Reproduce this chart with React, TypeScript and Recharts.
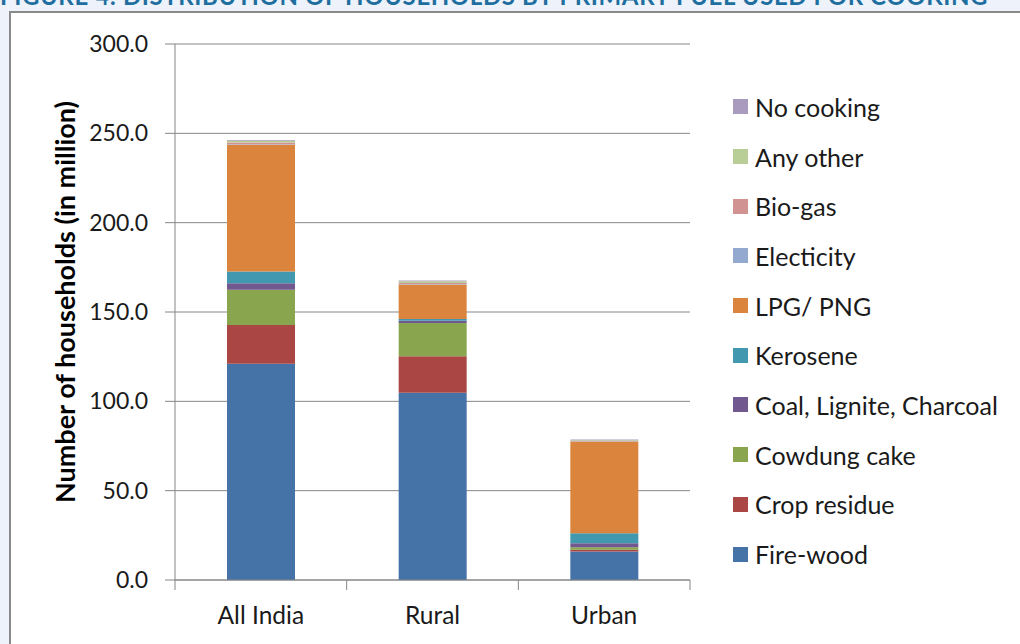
import React from "react";
import { BarChart, Bar, XAxis, YAxis, CartesianGrid } from "recharts";

// Census 2011, households (million) by primary cooking fuel
const categories = ["All India", "Rural", "Urban"];
const fireWood = [121.0, 104.8, 15.9];
const cropResidue = [21.7, 20.4, 1.1];
const cowdungCake = [19.7, 18.6, 1.4];
const coal = [3.7, 1.3, 2.2];
const kerosene = [6.6, 1.0, 5.6];
const lpg = [70.9, 19.2, 51.2];
const electricity = [0.3, 0.2, 0.1];
const bioGas = [1.0, 0.7, 0.3];
const anyOther = [0.9, 1.0, 0.4];
const noCooking = [0.5, 0.5, 0.5];
const yTicks = [0, 50, 100, 150, 200, 250, 300];

const series = [
  { key: "fireWood", name: "Fire-wood", values: fireWood, color: "#4572A7" },
  { key: "cropResidue", name: "Crop residue", values: cropResidue, color: "#AA4643" },
  { key: "cowdungCake", name: "Cowdung cake", values: cowdungCake, color: "#89A54E" },
  { key: "coal", name: "Coal, Lignite, Charcoal", values: coal, color: "#71588F" },
  { key: "kerosene", name: "Kerosene", values: kerosene, color: "#4198AF" },
  { key: "lpg", name: "LPG/ PNG", values: lpg, color: "#DB843D" },
  { key: "electricity", name: "Electicity", values: electricity, color: "#93A9CF" },
  { key: "bioGas", name: "Bio-gas", values: bioGas, color: "#D19392" },
  { key: "anyOther", name: "Any other", values: anyOther, color: "#B9CD96" },
  { key: "noCooking", name: "No cooking", values: noCooking, color: "#A99BBD" },
];

const data = categories.map((cat, i) => {
  const row: Record<string, string | number> = { category: cat };
  series.forEach((s) => (row[s.key] = s.values[i]));
  return row;
});

const FONT = "Lato, 'Open Sans', sans-serif";
const AXIS = "#868686";

function CategoryTick(props: any) {
  const { x, y, payload, index, visibleTicksCount } = props;
  const half = payload.offset ?? 0;
  const top = y - 8;
  return (
    <g>
      <line x1={x - half} x2={x - half} y1={top} y2={top + 10} stroke={AXIS} />
      {index === visibleTicksCount - 1 && (
        <line x1={x + half} x2={x + half} y1={top} y2={top + 10} stroke={AXIS} />
      )}
      <text
        x={x}
        y={top + 44}
        textAnchor="middle"
        fontFamily={FONT}
        fontSize={24.5}
        fill="#1a1a1a"
      >
        {payload.value}
      </text>
    </g>
  );
}

function YTitle(props: any) {
  const { viewBox } = props;
  const cx = 64;
  const cy = viewBox.y + viewBox.height / 2 - 10;
  return (
    <text
      x={cx}
      y={cy}
      transform={`rotate(-90, ${cx}, ${cy})`}
      textAnchor="middle"
      dominantBaseline="central"
      fontFamily={FONT}
      fontWeight={700}
      fontSize={27}
      fill="#000"
    >
      Number of households (in million)
    </text>
  );
}

function LegendList() {
  const items = [...series].reverse();
  return (
    <div
      style={{
        position: "absolute",
        left: 733,
        top: 82,
        fontFamily: FONT,
        fontSize: 25,
        color: "#1a1a1a",
      }}
    >
      {items.map((item) => (
        <div
          key={item.key}
          style={{ height: 49.7, display: "flex", alignItems: "center" }}
        >
          <span
            style={{
              width: 15,
              height: 15,
              background: item.color,
              marginRight: 7,
              flexShrink: 0,
            }}
          />
          <span style={{ whiteSpace: "nowrap" }}>{item.name}</span>
        </div>
      ))}
    </div>
  );
}

export default function App() {
  return (
    <div
      style={{
        position: "absolute",
        left: 0,
        top: 0,
        width: 1020,
        height: 644,
        overflow: "hidden",
        background: "#EEF3FB",
      }}
    >
      <div
        style={{
          position: "absolute",
          left: 0,
          top: -19,
          whiteSpace: "nowrap",
          fontFamily: FONT,
          fontWeight: 700,
          fontSize: 24,
          color: "#1E6F9F",
          letterSpacing: 0.6,
        }}
      >
        FIGURE 4: DISTRIBUTION OF HOUSEHOLDS BY PRIMARY FUEL USED FOR COOKING
      </div>
      <div
        style={{
          position: "absolute",
          left: 9,
          top: 11,
          width: 1030,
          height: 660,
          background: "#fff",
          borderLeft: "2px solid #8A8A8A",
          borderTop: "2px solid #8A8A8A",
        }}
      />
      <div style={{ position: "absolute", left: 0, top: 0 }}>
        <BarChart
          width={1020}
          height={644}
          data={data}
          margin={{ top: 44, right: 330, bottom: 14, left: 0 }}
          barSize={68}
        >
          <CartesianGrid vertical={false} stroke={AXIS} />
          <XAxis
            dataKey="category"
            height={50}
            axisLine={{ stroke: AXIS }}
            tickLine={false}
            tick={<CategoryTick />}
            interval={0}
          />
          <YAxis
            width={175}
            domain={[0, 300]}
            ticks={yTicks}
            interval={0}
            tickFormatter={(v: number) => v.toFixed(1)}
            axisLine={{ stroke: AXIS }}
            tickLine={{ stroke: AXIS }}
            tickSize={10}
            tickMargin={17}
            tick={{ fontFamily: FONT, fontSize: 23, fill: "#1a1a1a" }}
            label={<YTitle />}
          />
          {series.map((s) => (
            <Bar
              key={s.key}
              dataKey={s.key}
              name={s.name}
              stackId="a"
              fill={s.color}
              isAnimationActive={false}
            />
          ))}
        </BarChart>
      </div>
      <LegendList />
    </div>
  );
}
